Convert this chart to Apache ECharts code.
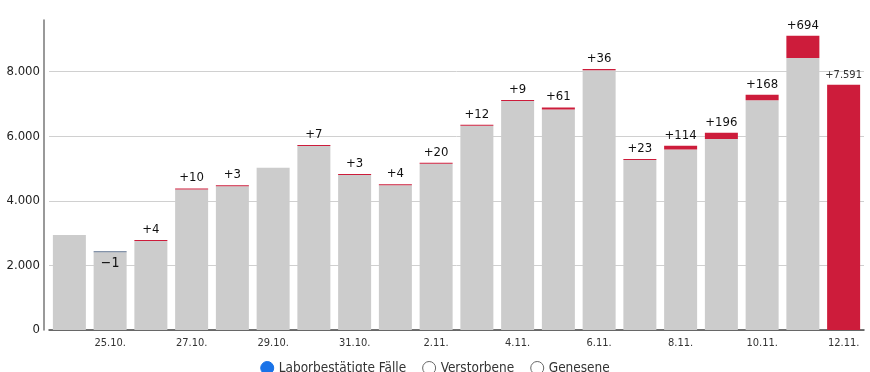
<!DOCTYPE html>
<html><head><meta charset="utf-8">
<script src="https://cdn.jsdelivr.net/npm/echarts@6/dist/echarts.min.js"></script>
<style>html,body{margin:0;padding:0;background:#fff}#c{width:870px;height:372px}</style>
</head><body><div id="c"></div>
<script>
const categories = ['24.10.','25.10.','26.10.','27.10.','28.10.','29.10.','30.10.','31.10.','1.11.','2.11.','3.11.','4.11.','5.11.','6.11.','7.11.','8.11.','9.11.','10.11.','11.11.','12.11.'];
const baseValues = [2945,2407,2755,4351,4451,5022,5697,4802,4481,5147,6322,7090,6832,8045,5268,5590,5911,7117,8420,0];
const increases  = [null,null,4,10,3,null,7,3,4,20,12,9,61,36,23,114,196,168,694,7591];
const decreases  = [null,1,null,null,null,null,null,null,null,null,null,null,null,null,null,null,null,null,null,null];
const yTicks = [0,2000,4000,6000,8000];
const legendNames = ['Laborbestätigte Fälle','Verstorbene','Genesene'];

const fmt = v => String(v).replace(/\B(?=(\d{3})+(?!\d))/g, '.');
const FONT = "'Liberation Sans Narrow', 'DejaVu Sans Condensed', 'Noto Sans', sans-serif";
const RED = '#cd1c3b';
const G = '#d0d0d0';

const chart = echarts.init(document.getElementById('c'), null, {renderer:'canvas'});
chart.setOption({
  animation:false,
  textStyle:{fontFamily:FONT},
  grid:{left:49,right:6,top:20,bottom:42,containLabel:false},
  legend:{
    bottom:-8, left:'center', itemGap:16, itemWidth:13, itemHeight:13, icon:'circle',
    textStyle:{fontSize:13.5,color:'#333',fontFamily:FONT},
    selectedMode:false,
    data:[
      {name:legendNames[0], itemStyle:{color:'#1a73e8',borderColor:'#1a73e8',borderWidth:1}},
      {name:legendNames[1], itemStyle:{color:'#fff',borderColor:'#666',borderWidth:1}},
      {name:legendNames[2], itemStyle:{color:'#fff',borderColor:'#666',borderWidth:1}}
    ]
  },
  xAxis:{
    type:'category', data:categories,
    axisTick:{show:false},
    axisLine:{lineStyle:{color:'#444',width:1.5}},
    axisLabel:{interval:(i)=>i%2===1, fontSize:11, color:'#333', margin:8, fontFamily:FONT}
  },
  yAxis:{
    type:'value', min:0, max:9600, interval:2000, offset:5,
    axisLine:{show:true,lineStyle:{color:'#777',width:1.5}},
    axisTick:{show:false},
    splitLine:{lineStyle:{color:[G,G,G,G,G,'rgba(0,0,0,0)']}},
    axisLabel:{fontSize:13,color:'#222',margin:4,fontFamily:FONT,
      formatter:v=> yTicks.includes(v) ? fmt(v) : ''}
  },
  series:[
    {name:legendNames[0], type:'bar', stack:'a', data:baseValues, barCategoryGap:'19%',
      itemStyle:{color:'#cccccc'}},
    {name:'dec', type:'bar', stack:'a', data:decreases, barMinHeight:1,
      itemStyle:{color:'#5b6f8c'},
      label:{show:true, position:'bottom', distance:4, fontSize:14, color:'#111', formatter:p=>'−'+p.value}},
    {name:'inc', type:'bar', stack:'a', barMinHeight:1,
      data:increases.map((v,i)=> v==null ? null : (i===increases.length-1 ?
        {value:v, label:{fontSize:11, color:'#333', distance:4}} : v)),
      itemStyle:{color:RED},
      label:{show:true, position:'top', distance:4, fontSize:13, color:'#111', formatter:p=>'+'+fmt(p.value)}},
    {name:legendNames[1], type:'line', data:[]},
    {name:legendNames[2], type:'line', data:[]}
  ]
});
</script></body></html>
